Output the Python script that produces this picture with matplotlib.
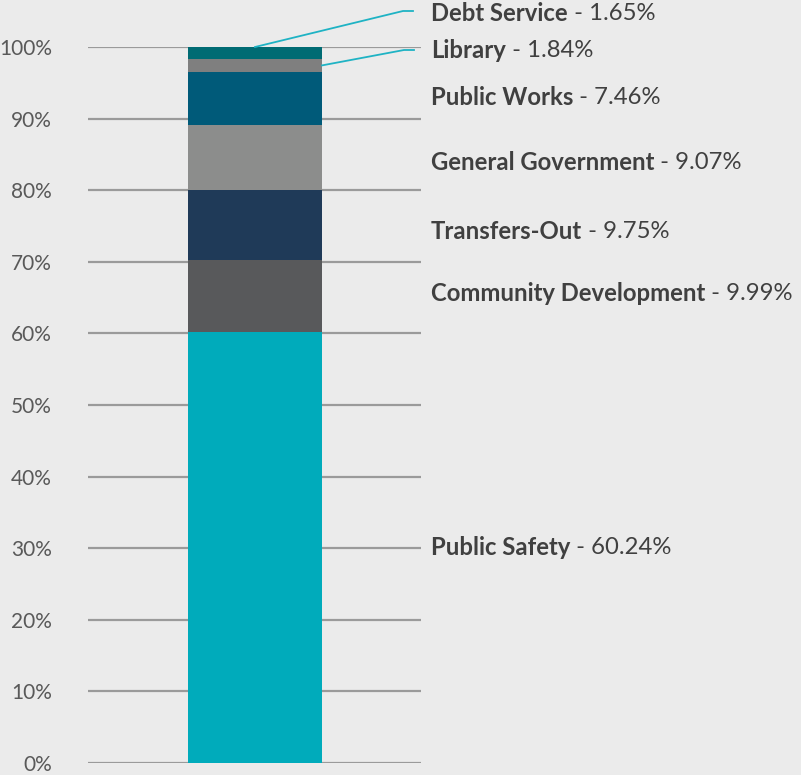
import matplotlib
matplotlib.use("Agg")
import matplotlib.pyplot as plt
import numpy as np

categories = ["Public Safety", "Community Development", "Transfers-Out",
              "General Government", "Public Works", "Library", "Debt Service"]
values = [60.24, 9.99, 9.75, 9.07, 7.46, 1.84, 1.65]
colors = ["#00abbb", "#58595b", "#1f3a58", "#8c8d8c", "#005a79", "#7f7f7f", "#006b73"]
tick_values = list(range(0, 101, 10))
tick_labels = [f"{t}%" for t in tick_values]
# label vertical positions (percent units)
label_y = [30.1, 65.6, 74.3, 83.8, 92.9, 99.5, 104.7]

BG = "#ebebeb"
W, H = 801, 775
fig = plt.figure(figsize=(W / 100, H / 100), dpi=100, facecolor=BG)
ax = fig.add_axes([88 / W, (H - 763) / H, (421 - 88) / W, 716 / H])
ax.set_facecolor(BG)
ax.set_xlim(0, 1)
ax.set_ylim(0, 100)

for t in tick_values:
    ax.axhline(t, color="#9a9a9a", lw=1.6, zorder=1)

bx, bw = 0.5015, 0.402
bottom = 0.0
mids = []
for v, c in zip(values, colors):
    ax.bar(bx, v, width=bw, bottom=bottom, color=c, zorder=2, linewidth=0)
    mids.append(bottom + v / 2)
    bottom += v
total = bottom

for s in ax.spines.values():
    s.set_visible(False)
ax.set_xticks([])
ax.set_yticks(tick_values)
ax.set_yticklabels(tick_labels)
ax.tick_params(axis="y", length=0, pad=26, labelsize=15, labelcolor="#595959")
for lab in ax.get_yticklabels():
    lab.set_fontfamily("Lato")

def px2x(px):
    return (px - 88) / (421 - 88)

def py2y(py):
    return (763 - py) / 716 * 100

# leader lines for small segments
ax.plot([px2x(255), px2x(403), px2x(413)], [total, py2y(11), py2y(11)],
        color="#1fb3c4", lw=1.3, clip_on=False, zorder=3)
ax.plot([px2x(322), px2x(404), px2x(414)], [mids[5], py2y(50), py2y(50)],
        color="#1fb3c4", lw=1.3, clip_on=False, zorder=3)

fig.canvas.draw()
renderer = fig.canvas.get_renderer()
tx = px2x(431)
fs = 17.2
for cat, v, ly in zip(categories, values, label_y):
    t1 = ax.text(tx, ly, cat, fontsize=fs, fontweight="bold", family="Lato",
                 color="#404040", va="center", ha="left", clip_on=False)
    bb = t1.get_window_extent(renderer=renderer)
    x_end = ax.transData.inverted().transform((bb.x1, 0))[0]
    ax.text(x_end, ly, f" - {v:.2f}%", fontsize=fs, family="Lato",
            color="#404040", va="center", ha="left", clip_on=False)

fig.savefig("out.png", dpi=100, facecolor=BG)
